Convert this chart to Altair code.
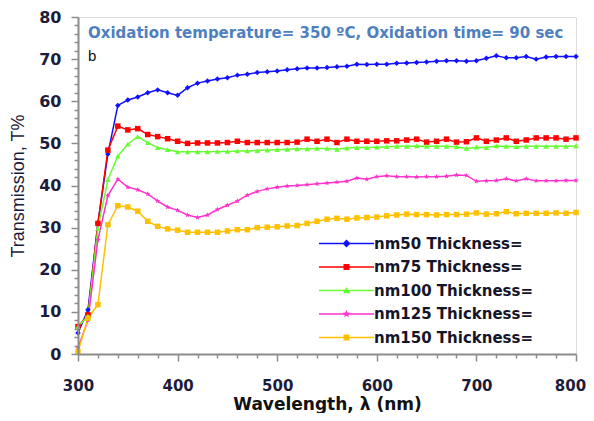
import altair as alt
import pandas as pd

wavelength = list(range(300, 801, 10))

t50 = [5.0, 10.5, 31.0, 47.5, 59.0, 60.3, 61.0, 62.0, 62.7, 62.0, 61.4, 63.2, 64.3, 64.8, 65.3,
       65.6, 66.2, 66.4, 66.8, 67.0, 67.2, 67.5, 67.7, 67.9, 67.9, 68.0, 68.2, 68.3, 68.8, 68.7,
       68.8, 68.8, 69.0, 69.1, 69.2, 69.3, 69.5, 69.6, 69.6, 69.5, 69.6, 70.2, 70.8, 70.3, 70.3,
       70.6, 70.0, 70.5, 70.6, 70.6, 70.6]
t75 = [6.5, 9.3, 31.0, 48.4, 54.1, 53.2, 53.5, 52.1, 51.6, 51.1, 50.5, 50.0, 50.1, 50.1, 50.1,
       50.2, 50.5, 50.2, 50.2, 50.2, 50.2, 50.2, 50.3, 51.0, 50.5, 51.0, 50.2, 51.0, 50.5, 50.5,
       50.5, 50.6, 50.6, 50.8, 51.0, 50.3, 50.5, 51.0, 50.3, 50.4, 51.3, 50.5, 50.8, 51.3, 50.5,
       50.8, 51.3, 51.3, 51.3, 51.0, 51.3]
t100 = [6.5, 9.0, 29.8, 41.4, 47.0, 49.8, 51.6, 50.2, 49.0, 48.5, 48.0, 48.0, 48.0, 48.0, 48.1,
        48.1, 48.2, 48.2, 48.3, 48.4, 48.5, 48.6, 48.7, 48.7, 48.8, 48.8, 48.6, 48.9, 49.0, 49.0,
        49.1, 49.2, 49.3, 49.3, 49.4, 49.3, 49.3, 49.3, 49.2, 48.8, 49.1, 49.0, 49.4, 49.3, 49.2,
        49.3, 49.3, 49.3, 49.3, 49.3, 49.4]
t125 = [1.5, 8.0, 27.1, 37.6, 41.5, 39.6, 39.0, 38.0, 36.3, 34.9, 34.1, 33.0, 32.4, 33.0, 34.3,
        35.3, 36.3, 37.7, 38.6, 39.2, 39.6, 39.9, 40.0, 40.2, 40.4, 40.6, 40.8, 41.0, 41.8, 41.5,
        42.1, 42.3, 42.1, 42.1, 42.0, 42.1, 42.1, 42.2, 42.5, 42.4, 41.0, 41.1, 41.2, 41.6, 41.1,
        41.6, 41.1, 41.1, 41.1, 41.2, 41.2]
t150 = [0.6, 8.5, 11.7, 30.7, 35.2, 34.9, 33.9, 31.5, 30.3, 29.7, 29.4, 28.9, 28.9, 28.9, 28.9,
        29.2, 29.5, 29.5, 30.0, 30.1, 30.2, 30.4, 30.5, 31.0, 31.5, 32.0, 32.2, 32.0, 32.3, 32.4,
        32.5, 32.8, 33.0, 33.2, 33.1, 33.1, 33.0, 33.1, 33.1, 33.2, 33.5, 33.2, 33.3, 33.8, 33.3,
        33.4, 33.4, 33.4, 33.5, 33.4, 33.6]

series_labels = ["nm50 Thickness=", "nm75 Thickness=", "nm100 Thickness=",
                 "nm125 Thickness=", "nm150 Thickness="]
series_values = [t50, t75, t100, t125, t150]
colors = ["#1010ff", "#ff0000", "#66ff33", "#ff33cc", "#ffc000"]

x_ticks = list(range(300, 801, 20))
y_ticks = list(range(0, 81, 2))

title_text = "Oxidation temperature= 350 \u00baC, Oxidation time= 90 sec"
panel_label = "b"

STAR = ("M0,-1L0.265,-0.364L0.951,-0.309L0.428,0.139L0.588,0.809L0,0.45"
        "L-0.588,0.809L-0.428,0.139L-0.951,-0.309L-0.265,-0.364Z")


def scale_path(p, k):
    out = []
    num = ""
    for ch in p:
        if ch in "-.0123456789":
            num += ch
        else:
            if num:
                out.append(str(round(float(num) * k, 3)))
                num = ""
            out.append(ch)
    if num:
        out.append(str(round(float(num) * k, 3)))
    return "".join(out)


point_shapes = ["diamond", "square", "triangle-up", STAR, "square"]
LINE = "M-5.5,-0.15H5.5V0.15H-5.5Z"
legend_shapes = [
    LINE + "M0,-0.8L0.8,0L0,0.8L-0.8,0Z",
    LINE + "M-0.6,-0.6H0.6V0.6H-0.6Z",
    LINE + "M0,-0.7L0.7,0.55H-0.7Z",
    LINE + scale_path(STAR, 0.8),
    LINE + "M-0.6,-0.6H0.6V0.6H-0.6Z",
]

rows = []
for lab, vals in zip(series_labels, series_values):
    for w, v in zip(wavelength, vals):
        rows.append({"wl": w, "T": v, "series": lab})
df = pd.DataFrame(rows)

FONT = "DejaVu Sans"
GRAY = "#8c8c8c"
DARK = "#1c1c3a"

x_enc = alt.X(
    "wl:Q",
    scale=alt.Scale(domain=[300, 800], nice=False, zero=False),
    axis=alt.Axis(
        values=x_ticks,
        labelExpr="datum.value % 100 === 0 ? datum.label : ''",
        tickSize={"condition": {"test": "datum.value % 100 === 0", "value": 7}, "value": 4},
        labelOffset={"condition": {"test": "datum.value === 800", "value": -6}, "value": 0},
        title="Wavelength, \u03bb (nm)",
        titleFont=FONT, titleFontSize=17, titleFontWeight="bold", titleColor="#111111",
        titlePadding=3,
        labelFont=FONT, labelFontSize=15, labelFontWeight="bold", labelColor=DARK,
        labelPadding=17, labelOverlap=False, labelFlush=False,
        domainColor=GRAY, domainWidth=2, tickColor=GRAY, tickWidth=1.5, grid=False,
        zindex=1,
    ),
)
y_enc = alt.Y(
    "T:Q",
    scale=alt.Scale(domain=[0, 80], nice=False),
    axis=alt.Axis(
        values=y_ticks,
        labelExpr="datum.value % 10 === 0 ? datum.label : ''",
        tickSize={"condition": {"test": "datum.value % 10 === 0", "value": 7}, "value": 4},
        title="Transmission, T%",
        titleFont="Liberation Sans", titleFontSize=18, titleFontWeight="normal",
        titleColor=DARK, titlePadding=11,
        labelFont=FONT, labelFontSize=16, labelFontWeight="bold", labelColor=DARK,
        labelPadding=10, labelOverlap=False, labelFlush=False,
        domainColor=GRAY, domainWidth=2, tickColor=GRAY, tickWidth=1.5, grid=False,
        zindex=1,
    ),
)

shape_expr = "".join(
    "datum.value === '%s' ? '%s' : " % (lab, shp)
    for lab, shp in zip(series_labels, legend_shapes)
) + "'circle'"

leg = alt.Legend(
    title=None, orient="none", legendX=261, legendY=219,
    symbolType={"expr": shape_expr},
    symbolSize=100, symbolStrokeWidth=0, symbolOpacity=1,
    labelFont=FONT, labelFontSize=15, labelFontWeight="bold", labelColor="#14142a",
    labelOffset=20, rowPadding=7.5, padding=0, labelLimit=300,
)

line_layers = []
point_layers = []
for lab, col, shp in zip(series_labels, colors, point_shapes):
    base = alt.Chart(df).transform_filter(alt.datum.series == lab)
    line_layers.append(
        base.mark_line(strokeWidth=1.5, color=col).encode(x=x_enc, y=y_enc, order="wl:Q")
    )
    point_layers.append(
        base.mark_point(filled=True, size=30, opacity=1, shape=shp, color=col).encode(
            x=x_enc, y=y_enc)
    )

legend_layer = alt.Chart(df).transform_filter(alt.datum.wl == 300).mark_point(
    filled=True, opacity=0, size=100,
).encode(
    x=x_enc, y=y_enc,
    color=alt.Color("series:N", scale=alt.Scale(domain=series_labels, range=colors),
                    legend=leg),
)

title_df = pd.DataFrame({"wl": [310], "T": [76.2], "txt": [title_text]})
title_layer = alt.Chart(title_df).mark_text(
    align="left", baseline="middle", font=FONT, fontSize=15, fontWeight="bold",
    color="#4f7fc0",
).encode(x=x_enc, y=y_enc, text="txt:N")

b_df = pd.DataFrame({"wl": [310], "T": [70.8], "txt": [panel_label]})
b_layer = alt.Chart(b_df).mark_text(
    align="left", baseline="middle", font="Liberation Sans", fontSize=15,
    color="#111111",
).encode(x=x_enc, y=y_enc, text="txt:N")

chart = alt.layer(*line_layers, *point_layers, legend_layer, title_layer, b_layer).properties(
    width=498, height=337,
    padding={"left": 70, "top": 9, "right": 10, "bottom": 59},
    autosize=alt.AutoSizeParams(type="none"),
).configure_view(
    stroke="#222222", strokeWidth=1.5,
).configure(background="white")

chart.save("out.html", embed_options={"renderer": "svg", "actions": False})
